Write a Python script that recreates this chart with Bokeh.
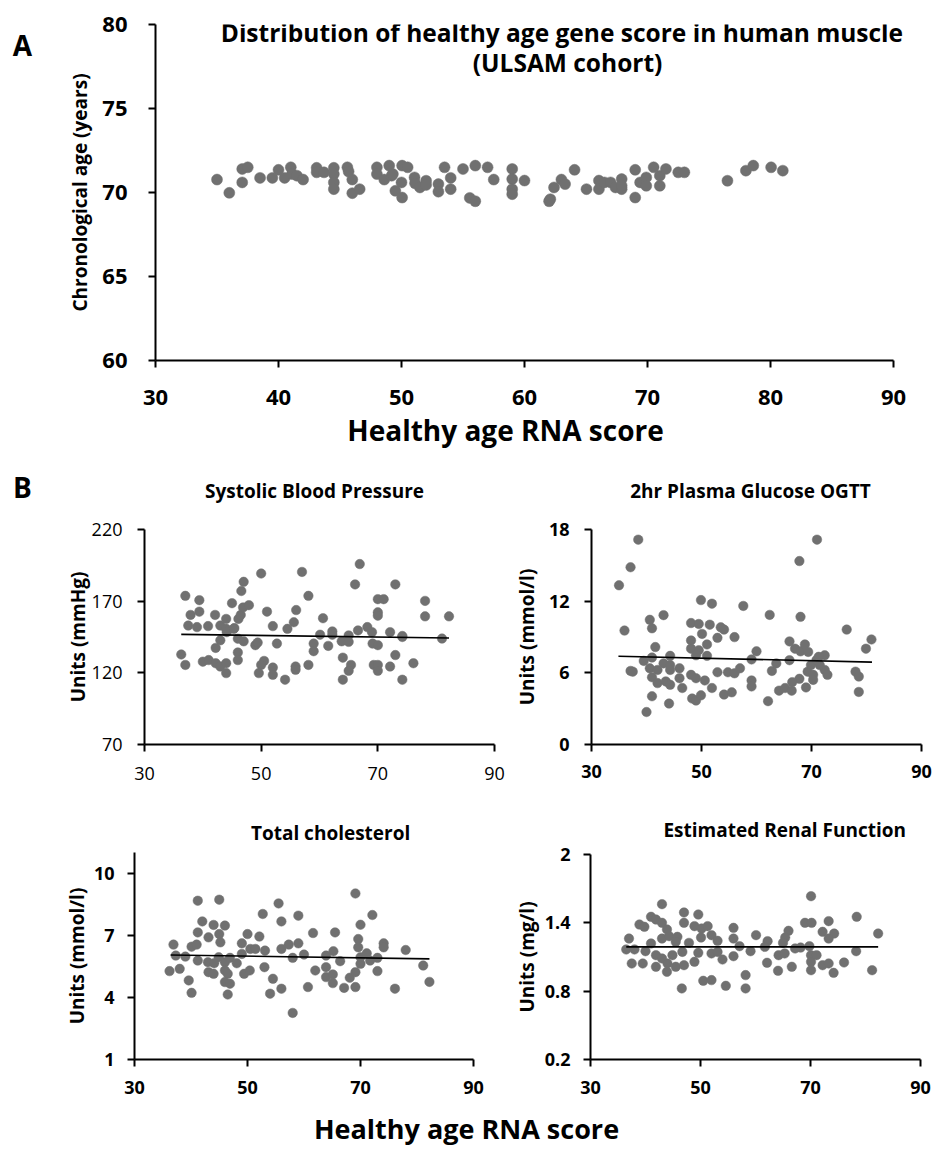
import numpy as np
from bokeh.plotting import figure
from bokeh.models import Range1d, FixedTicker, Label, NumeralTickFormatter
from bokeh.layouts import column, row
from bokeh.embed import file_html
from bokeh.resources import INLINE

# ---------------- data ----------------
# Panel A: healthy age RNA score vs chronological age (ULSAM)
a_score = [35.0, 36.0, 37.05, 37.05, 37.5, 38.5, 39.5, 40.0, 40.5, 41.0, 41.1, 41.5, 42.0, 43.1, 43.1,
           43.7, 44.5, 44.5, 44.5, 44.5, 45.6, 45.7, 46.0, 46.0, 46.6, 48.0, 48.0, 48.6, 49.0, 49.2,
           49.3, 50.05, 50.5, 50.0, 49.5, 50.05, 51.06, 51.1, 51.5, 52.0, 52.0, 53.0, 53.0, 54.0, 54.0,
           53.5, 55.0, 56.0, 57.0, 57.5, 55.55, 56.0, 59.0, 59.0, 59.0, 59.0, 60.0, 62.0, 62.1, 62.4,
           63.0, 63.3, 64.07, 65.04, 66.05, 66.05, 66.5, 67.0, 67.4, 67.9, 67.9, 67.9, 69.0, 69.0, 69.4,
           69.9, 69.9, 70.5, 71.0, 71.0, 71.5, 72.5, 73.0, 76.5, 78.0, 78.6, 80.05, 81.0]
a_age = [70.77, 69.98, 70.6, 71.4, 71.5, 70.87, 70.87, 71.35, 70.87, 71.5, 71.1, 71.0, 70.77, 71.47, 71.2,
         71.2, 71.47, 71.1, 70.6, 70.2, 71.5, 71.25, 70.77, 69.96, 70.2, 71.5, 71.1, 70.77, 71.6, 71.0,
         71.1, 71.6, 71.5, 70.6, 70.1, 69.7, 70.9, 70.55, 70.3, 70.7, 70.45, 70.5, 70.05, 70.87, 70.2,
         71.5, 71.4, 71.6, 71.5, 70.77, 69.68, 69.48, 71.4, 70.8, 70.2, 69.9, 70.71, 69.48, 69.6, 70.3,
         70.77, 70.5, 71.35, 70.2, 70.71, 70.2, 70.6, 70.6, 70.3, 70.8, 70.2, 70.4, 71.35, 69.7, 70.6,
         70.9, 70.4, 71.5, 71.0, 70.4, 71.4, 71.2, 71.2, 70.7, 71.3, 71.6, 71.5, 71.3]

# Panel B: systolic blood pressure (mmHg)
sbp_score = [37.0, 39.4, 37.9, 39.4, 37.5, 39.0, 40.9, 42.1, 43.0, 44.0, 44.0, 45.0, 45.4, 46.1, 46.5,
             46.9, 47.9, 46.6, 47.0, 50.0, 51.0, 52.0, 54.5, 55.6, 56.0, 57.0, 58.1, 60.6, 60.1, 62.2,
             62.2, 65.0, 66.1, 66.9, 66.6, 68.2, 69.0, 70.0, 71.0, 70.0, 70.0, 72.1, 73.0, 74.2, 78.1,
             78.1, 82.2, 81.0,
             36.3, 37.0, 40.0, 41.0, 42.2, 43.0, 44.0, 44.0, 42.2, 43.0, 44.1, 45.3, 46.0, 47.0, 46.0,
             46.0, 49.0, 49.4, 50.5, 50.0, 49.6, 52.0, 52.0, 52.7, 54.1, 55.9, 55.9, 58.1, 59.0, 59.0,
             61.5, 64.0, 65.4, 65.0, 64.0, 63.8, 65.0, 69.1, 70.0, 69.3, 70.0, 70.0, 72.1, 73.0, 74.2,
             76.1, 74.2]
sbp = [173.7, 170.7, 160.4, 162.7, 153.0, 151.9, 152.6, 160.4, 153.0, 157.6, 150.7, 168.6, 151.2, 157.6,
       160.4, 165.6, 167.2, 177.1, 183.5, 189.3, 162.7, 152.6, 150.7, 155.3, 163.8, 190.4, 173.7, 158.1,
       146.6, 148.9, 146.6, 146.1, 181.7, 195.9, 149.6, 151.9, 148.4, 171.4, 171.4, 162.2, 159.9, 148.4,
       181.7, 145.7, 170.2, 159.4, 159.4, 143.9,
       132.8, 125.5, 127.8, 128.9, 126.7, 124.4, 126.7, 119.8, 137.4, 142.7, 148.4, 150.7, 143.8, 142.0,
       134.2, 128.9, 139.3, 141.1, 128.3, 125.5, 119.8, 123.7, 118.6, 140.4, 115.2, 124.4, 122.1, 125.5,
       140.4, 135.1, 138.8, 130.6, 125.5, 121.4, 115.2, 142.0, 141.6, 140.4, 139.3, 125.5, 125.5, 121.4,
       124.4, 132.4, 115.2, 126.7, 145.0]
sbp_fit_x = [36.3, 82.2]
sbp_fit_y = [146.8, 144.3]

# Panel B: 2hr plasma glucose, OGTT (mmol/l)
glu_score = [35.0, 36.0, 37.1, 38.5, 37.1, 37.5, 39.5, 40.6, 41.0, 41.6, 41.0, 40.6, 42.0, 41.0, 42.0,
             41.0, 40.0, 43.1, 43.1, 44.3, 44.3, 43.5, 44.3, 44.1, 46.0, 46.0, 46.5, 44.3, 48.1, 49.5,
             48.1, 48.1, 49.5, 49.0, 50.1, 49.9, 51.9, 51.5, 51.0, 51.0, 48.1, 49.0, 50.6, 48.3, 49.0,
             49.9, 51.9, 52.9, 53.5, 54.1, 52.9, 54.1, 55.5, 54.8, 56.0, 57.0, 56.0, 57.6, 59.1, 59.1,
             59.1, 60.0, 62.1, 62.8, 62.4, 63.6, 64.1, 65.2, 66.4, 66.0, 66.0, 67.0, 67.8, 68.0, 68.0,
             68.8, 69.4, 69.0, 67.8, 66.5, 69.3, 69.9, 70.3, 70.3, 70.9, 71.0, 72.4, 72.4, 72.9, 71.5,
             76.4, 78.0, 78.6, 78.6, 79.9, 80.9, 71.3]
glu = [13.33, 9.54, 14.84, 17.15, 6.16, 6.1, 7.0, 10.44, 9.73, 8.16, 7.28, 6.38, 6.24, 5.63, 5.14,
       4.04, 2.72, 10.83, 6.79, 7.42, 6.65, 5.28, 5.0, 3.43, 6.38, 5.55, 4.73, 6.24, 10.17, 10.09,
       8.71, 8.02, 7.89, 7.47, 9.26, 12.09, 11.79, 10.03, 8.38, 7.42, 5.83, 5.55, 5.36, 3.85, 3.68,
       4.12, 4.73, 6.05, 9.81, 9.62, 8.93, 4.18, 4.37, 6.05, 5.96, 6.38, 8.99, 11.6, 5.36, 4.86,
       7.12, 7.8, 3.63, 6.16, 10.85, 6.79, 4.51, 4.73, 4.51, 7.06, 8.63, 8.02, 15.36, 10.69, 7.8,
       8.38, 7.75, 4.78, 5.5, 5.22, 6.1, 6.65, 5.83, 5.41, 7.06, 17.15, 7.47, 6.24, 5.83, 6.65,
       9.62, 6.1, 5.69, 4.4, 8.02, 8.79, 7.34]
glu_fit_x = [34.9, 81.0]
glu_fit_y = [7.39, 6.90]

# Panel B: total cholesterol (mmol/l)
chol_score = [41.2, 45.0, 55.5, 69.1, 72.1, 52.7, 59.0, 56.0, 42.0, 44.0, 46.0, 41.2, 43.1, 45.0, 45.2,
              50.0, 52.1, 61.6, 65.5, 70.0, 69.6, 36.9, 40.1, 41.0, 49.0, 50.5, 53.1, 56.0, 57.3, 59.0,
              60.0, 58.0, 63.9, 65.2, 66.4, 69.6, 71.1, 73.0, 74.1, 74.1, 78.0, 81.1, 82.2, 37.3, 39.0,
              36.2, 38.0, 41.2, 43.0, 44.1, 43.1, 44.0, 46.0, 46.9, 48.1, 46.0, 46.5, 46.0, 46.9, 46.5,
              39.6, 40.1, 49.4, 50.4, 53.0, 54.5, 56.0, 54.0, 58.0, 60.7, 62.0, 63.9, 63.9, 65.1, 65.1,
              67.1, 68.1, 69.1, 69.1, 70.0, 70.0, 71.7, 73.0, 76.1, 44.9, 49.0, 51.4]
chol = [8.67, 8.72, 8.54, 9.02, 7.98, 8.03, 7.95, 7.67, 7.67, 7.5, 7.47, 7.14, 6.9, 7.06, 6.66,
        7.06, 6.94, 7.11, 7.14, 7.51, 6.82, 6.55, 6.45, 6.55, 6.61, 6.34, 6.26, 6.34, 6.55, 6.61,
        6.07, 5.91, 6.02, 6.23, 5.75, 6.42, 6.13, 5.91, 6.61, 6.42, 6.29, 5.54, 4.75, 6.02, 5.97,
        5.27, 5.38, 5.78, 5.7, 5.65, 5.22, 5.14, 5.7, 5.91, 5.65, 5.3, 5.14, 4.74, 4.66, 4.14,
        4.82, 4.22, 5.14, 5.3, 5.46, 4.9, 4.42, 4.18, 3.25, 4.5, 5.3, 5.46, 4.98, 5.11, 4.69,
        4.46, 4.95, 5.22, 4.5, 5.62, 5.94, 5.78, 5.27, 4.42, 5.94, 6.1, 6.34]
chol_fit_x = [36.4, 82.2]
chol_fit_y = [6.05, 5.86]

# Panel B: estimated renal function (mg/l)
renal_score = [43.0, 47.0, 49.6, 47.0, 38.9, 39.8, 41.0, 41.9, 43.0, 43.9, 37.0, 41.0, 43.0, 44.3, 45.8,
               45.5, 47.9, 48.9, 50.2, 51.3, 50.1, 52.0, 53.1, 56.0, 56.0, 57.1, 60.1, 62.2, 61.7, 66.0,
               65.4, 65.0, 69.0, 70.2, 70.1, 73.3, 72.2, 74.3, 73.3, 78.4, 82.3, 69.8, 68.2, 36.5, 38.0,
               40.0, 37.5, 39.5, 41.9, 43.0, 41.9, 44.0, 43.9, 44.9, 45.5, 46.7, 47.0, 46.6, 48.9, 49.6,
               52.0, 53.1, 54.0, 50.5, 52.0, 54.6, 56.0, 59.1, 58.2, 58.2, 62.1, 64.1, 64.2, 65.3, 66.6,
               67.2, 70.1, 71.1, 70.1, 70.1, 72.2, 73.3, 74.2, 76.1, 78.3, 81.2]
renal = [1.564, 1.491, 1.473, 1.40, 1.385, 1.365, 1.453, 1.429, 1.40, 1.342, 1.262, 1.219, 1.262, 1.283,
         1.277, 1.233, 1.224, 1.371, 1.35, 1.371, 1.271, 1.292, 1.242, 1.356, 1.262, 1.195, 1.292, 1.239,
         1.189, 1.33, 1.271, 1.224, 1.40, 1.40, 1.634, 1.415, 1.321, 1.306, 1.262, 1.453, 1.306, 1.195,
         1.183, 1.166, 1.166, 1.151, 1.043, 1.043, 1.116, 1.087, 1.014, 1.043, 0.97, 1.116, 1.014, 1.145,
         1.028, 0.824, 1.058, 1.137, 1.131, 1.145, 1.078, 0.891, 0.897, 0.847, 1.107, 1.151, 0.941, 0.824,
         1.049, 0.979, 1.116, 1.131, 1.014, 1.175, 1.116, 1.116, 1.058, 0.984, 1.028, 1.043, 0.961, 1.052,
         1.151, 0.984]
renal_fit_x = [36.5, 82.3]
renal_fit_y = [1.189, 1.189]

score_ticks = [30, 50, 70, 90]

# ---------------- styling helpers ----------------
FONT = "Open Sans"
DOT = "#707070"


def make_fig(w, h, xr, yr, left, right, top, bottom):
    p = figure(width=w, height=h, x_range=Range1d(*xr), y_range=Range1d(*yr),
               output_backend="svg", toolbar_location=None,
               min_border_left=left, min_border_right=right,
               min_border_top=top, min_border_bottom=bottom)
    p.outline_line_color = None
    p.background_fill_color = "white"
    p.border_fill_color = "white"
    p.xgrid.visible = False
    p.ygrid.visible = False
    for ax in (p.xaxis[0], p.yaxis[0]):
        ax.axis_line_width = 2
        ax.axis_line_color = "black"
        ax.major_tick_line_width = 2
        ax.major_tick_line_color = "black"
        ax.major_tick_out = 7
        ax.major_tick_in = 0
        ax.minor_tick_line_color = None
        ax.major_label_text_color = "black"
        ax.major_label_text_font = FONT
        ax.axis_label_text_font = FONT
        ax.axis_label_text_font_style = "bold"
        ax.axis_label_text_color = "black"
    return p


def style_ticks(p, size, bold, xstand, ystand):
    for ax, st in ((p.xaxis[0], xstand), (p.yaxis[0], ystand)):
        ax.major_label_text_font_size = f"{size}px"
        ax.major_label_text_font_style = "bold" if bold else "normal"
        ax.major_label_standoff = st


def y_title(p, s, size, standoff):
    ax = p.yaxis[0]
    ax.axis_label = s
    ax.axis_label_text_font_size = f"{size}px"
    ax.axis_label_standoff = standoff


def strip(w, h):
    # a text-only canvas whose frame is the whole strip (pixel coordinates, origin bottom-left)
    s = figure(width=w, height=h, x_range=Range1d(0, w), y_range=Range1d(0, h),
               output_backend="svg", toolbar_location=None, x_axis_type=None, y_axis_type=None,
               min_border_left=0, min_border_right=0, min_border_top=0, min_border_bottom=0)
    s.outline_line_color = None
    s.background_fill_color = "white"
    s.border_fill_color = "white"
    s.xgrid.visible = False
    s.ygrid.visible = False
    return s


def text(p, x, y, s, size, angle=0):
    p.add_layout(Label(x=x, y=y, text=s, text_font=FONT, text_font_size=f"{size}px",
                       text_font_style="bold", text_color="black", text_align="center",
                       text_baseline="middle", angle=angle, angle_units="deg"))


def scatter_with_fit(p, xs, ys, fx, fy, size):
    p.scatter(xs, ys, size=size, fill_color=DOT, line_color=DOT, line_width=0.5)
    p.line(fx, fy, line_color="black", line_width=1.6)


# ---------------- panel A ----------------
sA = strip(40, 410)
text(sA, 22, 385, "A", 28)

# the frame runs a little past 90 so the title has room; the axis itself stops at 90
pa = make_fig(893, 410, (30, 90 + 17 / 12.3), (60, 80), 115, 23, 24, 50)
pa.xaxis[0].bounds = (30, 90)
pa.xaxis[0].ticker = FixedTicker(ticks=[30, 40, 50, 60, 70, 80, 90])
pa.yaxis[0].ticker = FixedTicker(ticks=[60, 65, 70, 75, 80])
style_ticks(pa, 22, True, 22, 21)
y_title(pa, "Chronological age (years)", 19, 6)
pa.scatter(a_score, a_age, size=11, fill_color=DOT, line_color=DOT, line_width=0.5)
text(pa, 63.3, 79.52, "Distribution of  healthy age gene score in human muscle", 24.5)
text(pa, 63.5, 77.72, "(ULSAM cohort)", 24.5)

sAx = strip(933, 50)
text(sAx, 505, 31, "Healthy age RNA score", 28)

# ---------------- panel B, top row ----------------
hB1 = strip(933, 55)
text(hB1, 22, 29, "B", 28)
text(hB1, 314, 25, "Systolic Blood Pressure", 19)
text(hB1, 750, 25, "2hr Plasma Glucose OGTT", 19)

b1 = make_fig(510, 285, (30, 90), (70, 220), 144, 16, 14, 53)
b1.xaxis[0].ticker = FixedTicker(ticks=score_ticks)
b1.yaxis[0].ticker = FixedTicker(ticks=[70, 120, 170, 220])
style_ticks(b1, 18, False, 15, 15)
y_title(b1, "Units (mmHg)", 19, -2)
scatter_with_fit(b1, sbp_score, sbp, sbp_fit_x, sbp_fit_y, 9.5)

b2 = make_fig(423, 285, (30, 90), (0, 18), 68, 12, 11, 56)
b2.xaxis[0].ticker = FixedTicker(ticks=score_ticks)
b2.yaxis[0].ticker = FixedTicker(ticks=[0, 6, 12, 18])
style_ticks(b2, 18, True, 13, 15)
y_title(b2, "Units (mmol/l)", 19, 6)
scatter_with_fit(b2, glu_score, glu, glu_fit_x, glu_fit_y, 9.5)

# ---------------- panel B, bottom row ----------------
hB3 = strip(510, 46)
text(hB3, 295, 14, "Total cholesterol", 19)
b3 = make_fig(510, 254, (30, 90), (1, 11), 134, 37, 6, 41)
b3.xaxis[0].ticker = FixedTicker(ticks=score_ticks)
b3.yaxis[0].ticker = FixedTicker(ticks=[1, 4, 7, 10])
style_ticks(b3, 18, True, 14, 13)
y_title(b3, "Units (mmol/l)", 19, 1)
scatter_with_fit(b3, chol_score, chol, chol_fit_x, chol_fit_y, 9.5)

hB4 = strip(423, 43)
text(hB4, 249, 13.5, "Estimated Renal Function", 19)
b4 = make_fig(423, 257, (30, 90), (0.2, 2.0), 77, 13, 11, 41)
b4.xaxis[0].ticker = FixedTicker(ticks=score_ticks)
b4.yaxis[0].ticker = FixedTicker(ticks=[0.2, 0.8, 1.4, 2.0])
b4.yaxis[0].formatter = NumeralTickFormatter(format="0.[0]")
style_ticks(b4, 18, True, 14, 13)
y_title(b4, "Units (mg/l)", 19, 2)
scatter_with_fit(b4, renal_score, renal, renal_fit_x, renal_fit_y, 9.5)

# shared x-axis caption under panel B
foot = strip(933, 51)
text(foot, 466, 23, "Healthy age RNA score", 27)

layout = column(row(sA, pa), sAx, hB1, row(b1, b2),
                row(column(hB3, b3), column(hB4, b4)), foot)

open("out.html", "w").write(file_html(layout, INLINE))
